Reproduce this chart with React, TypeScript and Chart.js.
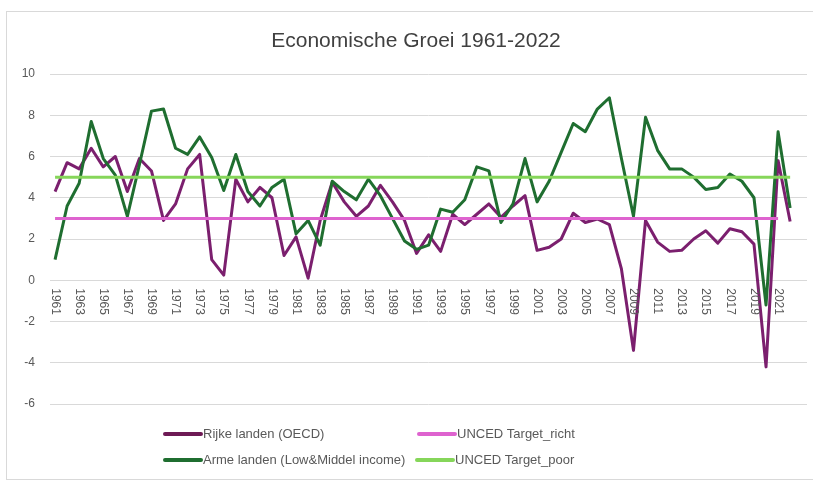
import React, { useEffect, useRef } from "react";
import { Chart, registerables } from "chart.js";
Chart.register(...registerables);

const titleText = "Economische Groei 1961-2022";

const years = [
  1961, 1962, 1963, 1964, 1965, 1966, 1967, 1968, 1969, 1970,
  1971, 1972, 1973, 1974, 1975, 1976, 1977, 1978, 1979, 1980,
  1981, 1982, 1983, 1984, 1985, 1986, 1987, 1988, 1989, 1990,
  1991, 1992, 1993, 1994, 1995, 1996, 1997, 1998, 1999, 2000,
  2001, 2002, 2003, 2004, 2005, 2006, 2007, 2008, 2009, 2010,
  2011, 2012, 2013, 2014, 2015, 2016, 2017, 2018, 2019, 2020,
  2021, 2022,
];

const rijkeLanden = [
  4.3, 5.7, 5.4, 6.4, 5.5, 6.0, 4.3, 5.9, 5.3, 2.9,
  3.7, 5.4, 6.1, 1.0, 0.25, 4.9, 3.8, 4.5, 4.0, 1.2,
  2.1, 0.1, 2.9, 4.75, 3.8, 3.1, 3.6, 4.6, 3.8, 2.9,
  1.3, 2.2, 1.4, 3.2, 2.7, 3.2, 3.7, 3.05, 3.6, 4.1,
  1.45, 1.6, 2.0, 3.25, 2.8, 2.97, 2.7, 0.55, -3.4, 2.9,
  1.85, 1.4, 1.45, 2.0, 2.4, 1.8, 2.5, 2.35, 1.75, -4.2,
  5.8, 2.85,
];

const armeLanden = [
  1.0, 3.6, 4.7, 7.7, 5.9, 5.1, 3.1, 5.6, 8.2, 8.3,
  6.4, 6.1, 6.95, 5.95, 4.35, 6.1, 4.3, 3.6, 4.5, 4.9,
  2.25, 2.9, 1.7, 4.8, 4.3, 3.9, 4.9, 4.1, 3.0, 1.9,
  1.5, 1.7, 3.45, 3.3, 3.9, 5.5, 5.3, 2.8, 3.7, 5.9,
  3.8, 4.8, 6.2, 7.6, 7.2, 8.3, 8.85, 5.9, 3.1, 7.9,
  6.3, 5.4, 5.4, 5.0, 4.4, 4.5, 5.15, 4.8, 4.0, -1.2,
  7.2, 3.5,
];

const targetRichYears = [1961, 2021];
const targetRichValues = [3, 3];
const targetPoorYears = [1961, 2022];
const targetPoorValues = [5, 5];

const xTickLabels = [
  "1961", "1963", "1965", "1967", "1969", "1971", "1973", "1975", "1977", "1979",
  "1981", "1983", "1985", "1987", "1989", "1991", "1993", "1995", "1997", "1999",
  "2001", "2003", "2005", "2007", "2009", "2011", "2013", "2015", "2017", "2019",
  "2021",
];

const seriesNames = [
  "Rijke landen (OECD)",
  "Arme landen (Low&Middel income)",
  "UNCED Target_richt",
  "UNCED Target_poor",
];

const COLORS = {
  rijke: "#7b1f6e",
  arme: "#1f6e30",
  richt: "#de63cf",
  poor: "#86d65a",
  text: "#595959",
  grid: "#d9d9d9",
};

const pts = (xs: number[], ys: number[]) => xs.map((x, i) => ({ x, y: ys[i] }));

const decorPlugin = {
  id: "decor",
  beforeDraw(chart: any) {
    const ctx = chart.ctx;
    ctx.save();
    ctx.fillStyle = "#ffffff";
    ctx.fillRect(0, 0, chart.width, chart.height);
    ctx.strokeStyle = "#d9d9d9";
    ctx.lineWidth = 1;
    ctx.strokeRect(6.5, 11.5, chart.width + 10, 468);
    ctx.restore();
  },
  afterDraw(chart: any) {
    const ctx = chart.ctx;
    const xs = chart.scales.x;
    const ys = chart.scales.y;
    ctx.save();
    // title
    ctx.fillStyle = "#404040";
    ctx.font = "21px 'Liberation Sans', Arial, sans-serif";
    ctx.textAlign = "center";
    ctx.textBaseline = "middle";
    ctx.fillText(titleText, 416, 41);

    // x tick labels, rotated
    ctx.fillStyle = COLORS.text;
    ctx.font = "12px 'Liberation Sans', Arial, sans-serif";
    const y0 = ys.getPixelForValue(0);
    for (const lab of xTickLabels) {
      const px = xs.getPixelForValue(Number(lab));
      ctx.save();
      ctx.translate(px, y0 + 8);
      ctx.rotate(Math.PI / 2);
      ctx.textAlign = "left";
      ctx.textBaseline = "middle";
      ctx.fillText(lab, 0, 0);
      ctx.restore();
    }

    // legend
    const items = [
      { name: seriesNames[0], color: "#6e1a55", x: 165, y: 434 },
      { name: seriesNames[2], color: COLORS.richt, x: 419, y: 434 },
      { name: seriesNames[1], color: COLORS.arme, x: 165, y: 460 },
      { name: seriesNames[3], color: COLORS.poor, x: 417, y: 460 },
    ];
    ctx.font = "13px 'Liberation Sans', Arial, sans-serif";
    ctx.textAlign = "left";
    ctx.textBaseline = "middle";
    for (const it of items) {
      ctx.strokeStyle = it.color;
      ctx.lineWidth = 4;
      ctx.lineCap = "round";
      ctx.beginPath();
      ctx.moveTo(it.x, it.y);
      ctx.lineTo(it.x + 36, it.y);
      ctx.stroke();
      ctx.fillStyle = COLORS.text;
      ctx.fillText(it.name, it.x + 38, it.y);
    }
    ctx.restore();
  },
};

export default function App() {
  const ref = useRef<HTMLCanvasElement | null>(null);
  useEffect(() => {
    if (!ref.current) return;
    const lineCommon = {
      pointRadius: 0,
      borderWidth: 3,
      tension: 0,
      borderJoinStyle: "round" as const,
      borderCapStyle: "butt" as const,
      fill: false,
    };
    const chart = new Chart(ref.current, {
      type: "line",
      data: {
        datasets: [
          { ...lineCommon, label: seriesNames[0], data: pts(years, rijkeLanden), borderColor: COLORS.rijke, order: 3 },
          { ...lineCommon, label: seriesNames[1], data: pts(years, armeLanden), borderColor: COLORS.arme, order: 2 },
          { ...lineCommon, label: seriesNames[2], data: pts(targetRichYears, targetRichValues), borderColor: COLORS.richt, order: 1 },
          { ...lineCommon, label: seriesNames[3], data: pts(targetPoorYears, targetPoorValues), borderColor: COLORS.poor, order: 0 },
        ],
      },
      options: {
        animation: false,
        responsive: false,
        devicePixelRatio: 1,
        layout: { padding: { left: 6, right: 6, top: 74, bottom: 79 } },
        plugins: {
          legend: { display: false },
          title: { display: false },
          tooltip: { enabled: false },
        },
        scales: {
          x: {
            type: "linear",
            display: false,
            min: 1960.58,
            max: 2023.4,
          },
          y: {
            min: -6,
            max: 10,
            ticks: {
              stepSize: 2,
              color: COLORS.text,
              padding: 15,
              font: { family: "'Liberation Sans', Arial, sans-serif", size: 12 },
            },
            grid: { color: COLORS.grid, drawTicks: false, lineWidth: 1 },
            border: { display: false },
            afterFit: (s: any) => {
              s.width = 44;
            },
          },
        },
      },
      plugins: [decorPlugin],
    });
    return () => chart.destroy();
  }, []);
  return (
    <div style={{ position: "absolute", left: 0, top: 0, width: 813, height: 483 }}>
      <canvas ref={ref} width={813} height={483} style={{ display: "block" }} />
    </div>
  );
}
